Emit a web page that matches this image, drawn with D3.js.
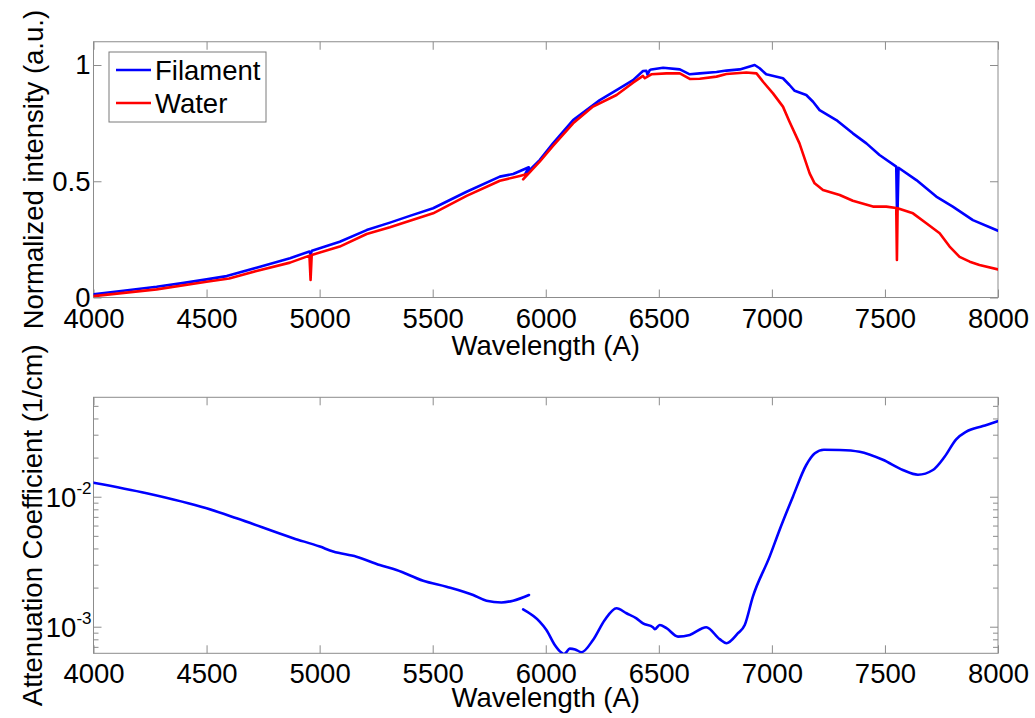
<!DOCTYPE html>
<html>
<head>
<meta charset="utf-8">
<script src="https://cdn.jsdelivr.net/npm/d3@7"></script>
<style>
html,body{margin:0;padding:0;background:#fff;}
svg{display:block;font-family:"Liberation Sans",Arial,sans-serif;}
</style>
</head>
<body>
<svg id="chart" width="1035" height="718"></svg>
<script>
// ---------------- DATA ----------------
const filamentWl = [4000,4132,4279,4400,4500,4589,4721,4869,4955,4960,4966,5089,5208,5311,5399,5502,5650,5797,5856,5925,5907,5973,6032,6121,6180,6239,6313,6386,6430,6445,6450,6460,6467,6519,6593,6637,6681,6755,6799,6858,6924,6946,6975,7049,7078,7101,7152,7182,7211,7285,7358,7418,7476,7550,7553,7556,7560,7639,7727,7800,7889,8000];
const filamentVal = [0.014,0.029,0.046,0.063,0.078,0.092,0.128,0.169,0.198,0.186,0.201,0.240,0.290,0.322,0.351,0.384,0.455,0.520,0.531,0.560,0.527,0.591,0.663,0.763,0.806,0.849,0.892,0.935,0.974,0.975,0.958,0.978,0.981,0.988,0.981,0.960,0.964,0.970,0.976,0.981,1.000,0.986,0.960,0.943,0.914,0.889,0.871,0.842,0.806,0.763,0.706,0.663,0.613,0.563,0.384,0.384,0.558,0.505,0.434,0.391,0.333,0.287];

const waterWl = [4000,4279,4500,4600,4721,4869,4955,4960,4965,5089,5208,5311,5355,5502,5650,5797,5885,5922,5900,5973,6032,6121,6209,6313,6386,6430,6438,6467,6534,6593,6637,6681,6755,6799,6887,6932,6961,7005,7049,7078,7122,7167,7189,7226,7300,7358,7447,7506,7550,7553,7556,7624,7683,7742,7786,7830,7875,7918,8000];
const waterVal = [0.006,0.035,0.068,0.082,0.114,0.150,0.180,0.075,0.183,0.219,0.273,0.302,0.316,0.362,0.437,0.502,0.523,0.532,0.508,0.584,0.652,0.749,0.821,0.871,0.924,0.953,0.943,0.960,0.964,0.964,0.940,0.941,0.950,0.961,0.968,0.964,0.928,0.878,0.821,0.756,0.663,0.534,0.491,0.462,0.441,0.416,0.391,0.391,0.385,0.161,0.384,0.362,0.319,0.276,0.219,0.175,0.154,0.140,0.121];

const attenWl1 = [4000,4235,4500,4633,4883,5001,5060,5163,5266,5340,5458,5561,5679,5738,5804,5856,5926];
const attenVal1 = [0.01294,0.01074,0.00822,0.00689,0.00484,0.00417,0.00382,0.00349,0.00301,0.00276,0.00228,0.00205,0.00177,0.00160,0.00155,0.00160,0.00177];
const attenWl2 = [5900,5973,6003,6040,6069,6080,6090,6106,6130,6158,6209,6261,6313,6357,6401,6430,6474,6482,6504,6534,6585,6637,6710,6769,6799,6850,6880,6916,6990,7034,7093,7152,7190,7230,7300,7388,7491,7579,7646,7712,7764,7815,7860,7933,7995,8000];
const attenVal2 = [0.00137,0.001104,0.000953,0.000731,0.000638,0.00062,0.00064,0.000684,0.000675,0.000642,0.000798,0.001138,0.00140,0.00128,0.00117,0.00107,0.00100,0.000965,0.00104,0.000982,0.000847,0.000873,0.00100,0.000809,0.000753,0.000899,0.00104,0.00172,0.00349,0.0056,0.0101,0.0177,0.0218,0.0232,0.0231,0.0224,0.0194,0.0162,0.0149,0.0162,0.0205,0.0279,0.0320,0.0353,0.0382,0.0385];

const xTicks = [4000,4500,5000,5500,6000,6500,7000,7500,8000];
const topYTicks = [0,0.5,1];
const topYTickLabels = ["0","0.5","1"];
const logMajor = [1e-3,1e-2];
const logMajorExp = ["-3","-2"];
const seriesNames = ["Filament","Water"];
const seriesColors = ["#0000ff","#ff0000"];

// ---------------- LAYOUT ----------------
const svg = d3.select("#chart");
const FONT = 27.5;
const axisColor = "#8c8c8c";
const L = 93.5, R = 998;
const top1 = 41.75, bot1 = 297.5;
const top2 = 397.3, bot2 = 653.3;

const x = d3.scaleLinear().domain([4000,8000]).range([L,R]);
const y1 = d3.scaleLinear().domain([0,1.1]).range([bot1,top1]);
const y2 = d3.scaleLog().domain([6.3e-4,0.0587]).range([bot2,top2]);

svg.append("defs").selectAll("clipPath").data([[top1,bot1,"c1"],[top2,bot2,"c2"]]).join("clipPath")
  .attr("id",d=>d[2]).append("rect").attr("x",L).attr("y",d=>d[0]).attr("width",R-L).attr("height",d=>d[1]-d[0]);

function frame(top,bot){
  svg.append("rect").attr("x",L).attr("y",top).attr("width",R-L).attr("height",bot-top)
    .attr("fill","#fff").attr("stroke",axisColor).attr("stroke-width",1);
}
function styleAxis(g){
  g.select(".domain").remove();
  g.selectAll(".tick line").attr("stroke",axisColor);
  g.selectAll(".tick text").attr("fill","#000").attr("font-size",FONT).attr("font-family","Liberation Sans, Arial, sans-serif");
}

// ------- TOP PANEL -------
frame(top1,bot1);
svg.append("g").attr("transform",`translate(0,${bot1})`)
  .call(d3.axisBottom(x).tickValues(xTicks).tickFormat(d3.format("d")).tickSizeInner(-8).tickSizeOuter(0).tickPadding(10.5))
  .call(styleAxis);
svg.append("g").attr("transform",`translate(0,${top1})`)
  .call(d3.axisTop(x).tickValues(xTicks).tickFormat("").tickSizeInner(-8).tickSizeOuter(0))
  .call(styleAxis);
svg.append("g").attr("transform",`translate(${L},0)`)
  .call(d3.axisLeft(y1).tickValues(topYTicks).tickFormat((d,i)=>topYTickLabels[i]).tickSizeInner(-8).tickSizeOuter(0).tickPadding(3))
  .call(styleAxis);
svg.append("g").attr("transform",`translate(${R},0)`)
  .call(d3.axisRight(y1).tickValues(topYTicks).tickFormat("").tickSizeInner(-8).tickSizeOuter(0))
  .call(styleAxis);

const topLine = d3.line().x(d=>x(d[0])).y(d=>y1(d[1])).curve(d3.curveLinear);
const topSeries = [
  d3.zip(filamentWl,filamentVal),
  d3.zip(waterWl,waterVal)
];
svg.append("g").attr("clip-path","url(#c1)").selectAll("path").data(topSeries).join("path")
  .attr("d",topLine).attr("fill","none").attr("stroke",(d,i)=>seriesColors[i])
  .attr("stroke-width",2.6).attr("stroke-linejoin","round").attr("stroke-linecap","round");

// legend
const lg = svg.append("g");
lg.append("rect").attr("x",109).attr("y",52).attr("width",157).attr("height",70)
  .attr("fill","#fff").attr("stroke","#7a7a7a").attr("stroke-width",1);
seriesNames.forEach((n,i)=>{
  const yy = 70 + i*33;
  lg.append("line").attr("x1",116).attr("x2",151).attr("y1",yy).attr("y2",yy)
    .attr("stroke",seriesColors[i]).attr("stroke-width",2.6);
  lg.append("text").attr("x",155).attr("y",yy+10).attr("font-size",FONT).text(n);
});

svg.append("text").attr("x",(L+R)/2).attr("y",355).attr("text-anchor","middle")
  .attr("font-size",FONT).text("Wavelength (A)");
svg.append("text").attr("transform",`translate(43,${(top1+bot1)/2}) rotate(-90)`).attr("text-anchor","middle")
  .attr("font-size",FONT).text("Normalized intensity (a.u.)");

// ------- BOTTOM PANEL -------
frame(top2,bot2);
svg.append("g").attr("transform",`translate(0,${bot2})`)
  .call(d3.axisBottom(x).tickValues(xTicks).tickFormat(d3.format("d")).tickSizeInner(-8).tickSizeOuter(0).tickPadding(10))
  .call(styleAxis);
svg.append("g").attr("transform",`translate(0,${top2})`)
  .call(d3.axisTop(x).tickValues(xTicks).tickFormat("").tickSizeInner(-8).tickSizeOuter(0))
  .call(styleAxis);

// log ticks
const allLogTicks = y2.ticks().filter(v=>v>=y2.domain()[0] && v<=y2.domain()[1]);
const isMajor = v => logMajor.some(m=>Math.abs(m-v)/m<1e-6);
[[L,1],[R,-1]].forEach(([xx,dir])=>{
  svg.append("g").selectAll("line").data(allLogTicks).join("line")
    .attr("x1",xx).attr("x2",d=>xx+dir*(isMajor(d)?8:5))
    .attr("y1",d=>y2(d)).attr("y2",d=>y2(d)).attr("stroke",axisColor);
});
const lbl = svg.append("g").selectAll("text").data(logMajor).join("text")
  .attr("x",L-2).attr("y",d=>y2(d)+9.8).attr("text-anchor","end").attr("font-size",FONT);
lbl.append("tspan").text("10");
lbl.append("tspan").attr("font-size",17).attr("dy",-13.5).text((d,i)=>logMajorExp[i]);

const botLine = d3.line().x(d=>x(d[0])).y(d=>y2(d[1])).curve(d3.curveMonotoneX);
const botSeries = [d3.zip(attenWl1,attenVal1), d3.zip(attenWl2,attenVal2)];
svg.append("g").attr("clip-path","url(#c2)").selectAll("path").data(botSeries).join("path")
  .attr("d",botLine).attr("fill","none").attr("stroke",seriesColors[0])
  .attr("stroke-width",2.6).attr("stroke-linejoin","round").attr("stroke-linecap","round");

svg.append("text").attr("x",(L+R)/2).attr("y",707).attr("text-anchor","middle")
  .attr("font-size",FONT).text("Wavelength (A)");
svg.append("text").attr("transform",`translate(42,${(top2+bot2)/2}) rotate(-90)`).attr("text-anchor","middle")
  .attr("font-size",FONT).text("Attenuation Coefficient (1/cm)");
</script>
</body>
</html>
